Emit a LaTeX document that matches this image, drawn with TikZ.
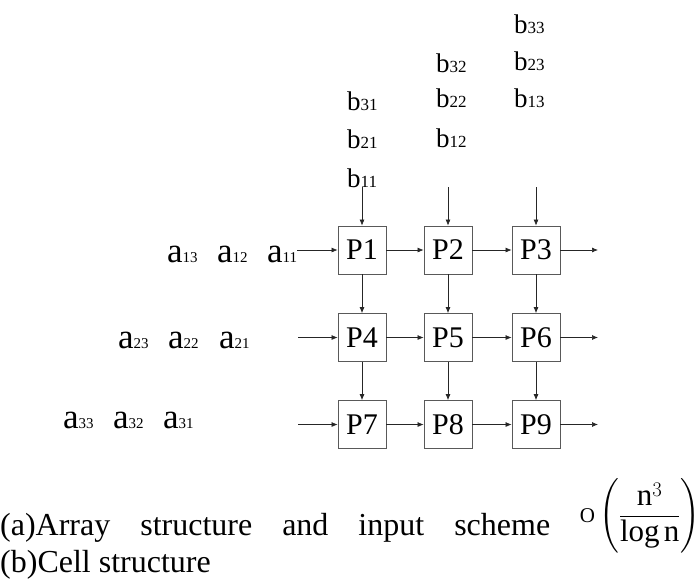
\documentclass[tikz,border=0pt]{standalone}
\usepackage{amsmath}
\usepackage{fontspec}
\setmainfont{Liberation Serif}
\usetikzlibrary{positioning,arrows.meta}

% matrix entries: big letter, small index on the baseline
\newcommand{\aval}[1]{{\fontsize{35}{35}\selectfont a}{\fontsize{15}{15}\selectfont #1}}
\newcommand{\bval}[1]{{\fontsize{27}{27}\selectfont b}{\fontsize{17}{17}\selectfont #1}}

\begin{document}
\begin{tikzpicture}[x=1pt, y=-1pt,
    pe/.style={draw=black!65, line width=0.8pt, minimum size=48pt, inner sep=0pt,
               font=\fontsize{30}{30}\selectfont},
    entry/.style={inner sep=0pt, anchor=base west},
    flow/.style={-{Latex[length=6pt,width=5pt]}, line width=0.7pt, black!85}]
    \useasboundingbox (0,0) rectangle (700,579);

    % processing elements
    \foreach \n/\x/\y in {1/362/250, 2/448/250, 3/536/250,
                          4/362/337.5, 5/448/337.5, 6/536/337.5,
                          7/362/424.5, 8/448/424.5, 9/536/424.5} {
        \node[pe] (p\n) at (\x,\y) {P\n};
    }

    % a inputs (rows)
    \node[entry] (a13) at (167,262) {\aval{13}};
    \node[entry] (a12) at (217,262) {\aval{12}};
    \node[entry] (a11) at (267,262) {\aval{11}};
    \node[entry] (a23) at (118,348) {\aval{23}};
    \node[entry] (a22) at (168,348) {\aval{22}};
    \node[entry] (a21) at (219,348) {\aval{21}};
    \node[entry] (a33) at (63,428) {\aval{33}};
    \node[entry] (a32) at (113,428) {\aval{32}};
    \node[entry] (a31) at (163,428) {\aval{31}};

    % b inputs (columns)
    \node[entry] (b31) at (347,110) {\bval{31}};
    \node[entry] (b21) at (347,148) {\bval{21}};
    \node[entry] (b11) at (347,187) {\bval{11}};
    \node[entry] (b32) at (436,72) {\bval{32}};
    \node[entry] (b22) at (436,107) {\bval{22}};
    \node[entry] (b12) at (436,147) {\bval{12}};
    \node[entry] (b33) at (514,33) {\bval{33}};
    \node[entry] (b23) at (514,70) {\bval{23}};
    \node[entry] (b13) at (514,107) {\bval{13}};

    % free ends of the connectors
    \coordinate (in2) at (298,337.5);
    \coordinate (in3) at (298,424.5);
    \coordinate (top2) at (448,187);
    \coordinate (top3) at (536,187);
    \coordinate (out1) at (598,250);
    \coordinate (out2) at (598,337.5);
    \coordinate (out3) at (598,424.5);

    \draw[flow] (a11.east |- p1) -- (p1);
    \draw[flow] (in2) -- (p4);
    \draw[flow] (in3) -- (p7);
    \draw[flow] (p1 |- b11.base) -- (p1);
    \draw[flow] (top2) -- (p2);
    \draw[flow] (top3) -- (p3);

    \foreach \s/\t in {1/2, 2/3, 4/5, 5/6, 7/8, 8/9, 1/4, 2/5, 3/6, 4/7, 5/8, 6/9} {
        \draw[flow] (p\s) -- (p\t);
    }
    \draw[flow] (p3) -- (out1);
    \draw[flow] (p6) -- (out2);
    \draw[flow] (p9) -- (out3);

    % caption
    \node[entry, font=\fontsize{32}{32}\selectfont] (cap1) at (0,535)
        {\makebox[550pt][s]{(a)Array structure and input scheme}};
    \node[entry, font=\fontsize{32}{32}\selectfont] (cap2) at (0,572) {(b)Cell structure};
    \node[inner sep=0pt, font=\fontsize{31}{31}\selectfont] (cost) at (640,516)
        {$\vcenter{\hbox{\fontsize{21}{21}\selectfont O}}\left(\dfrac{\mathrm{n}^3}{\log\mathrm{n}}\right)$};
\end{tikzpicture}
\end{document}
